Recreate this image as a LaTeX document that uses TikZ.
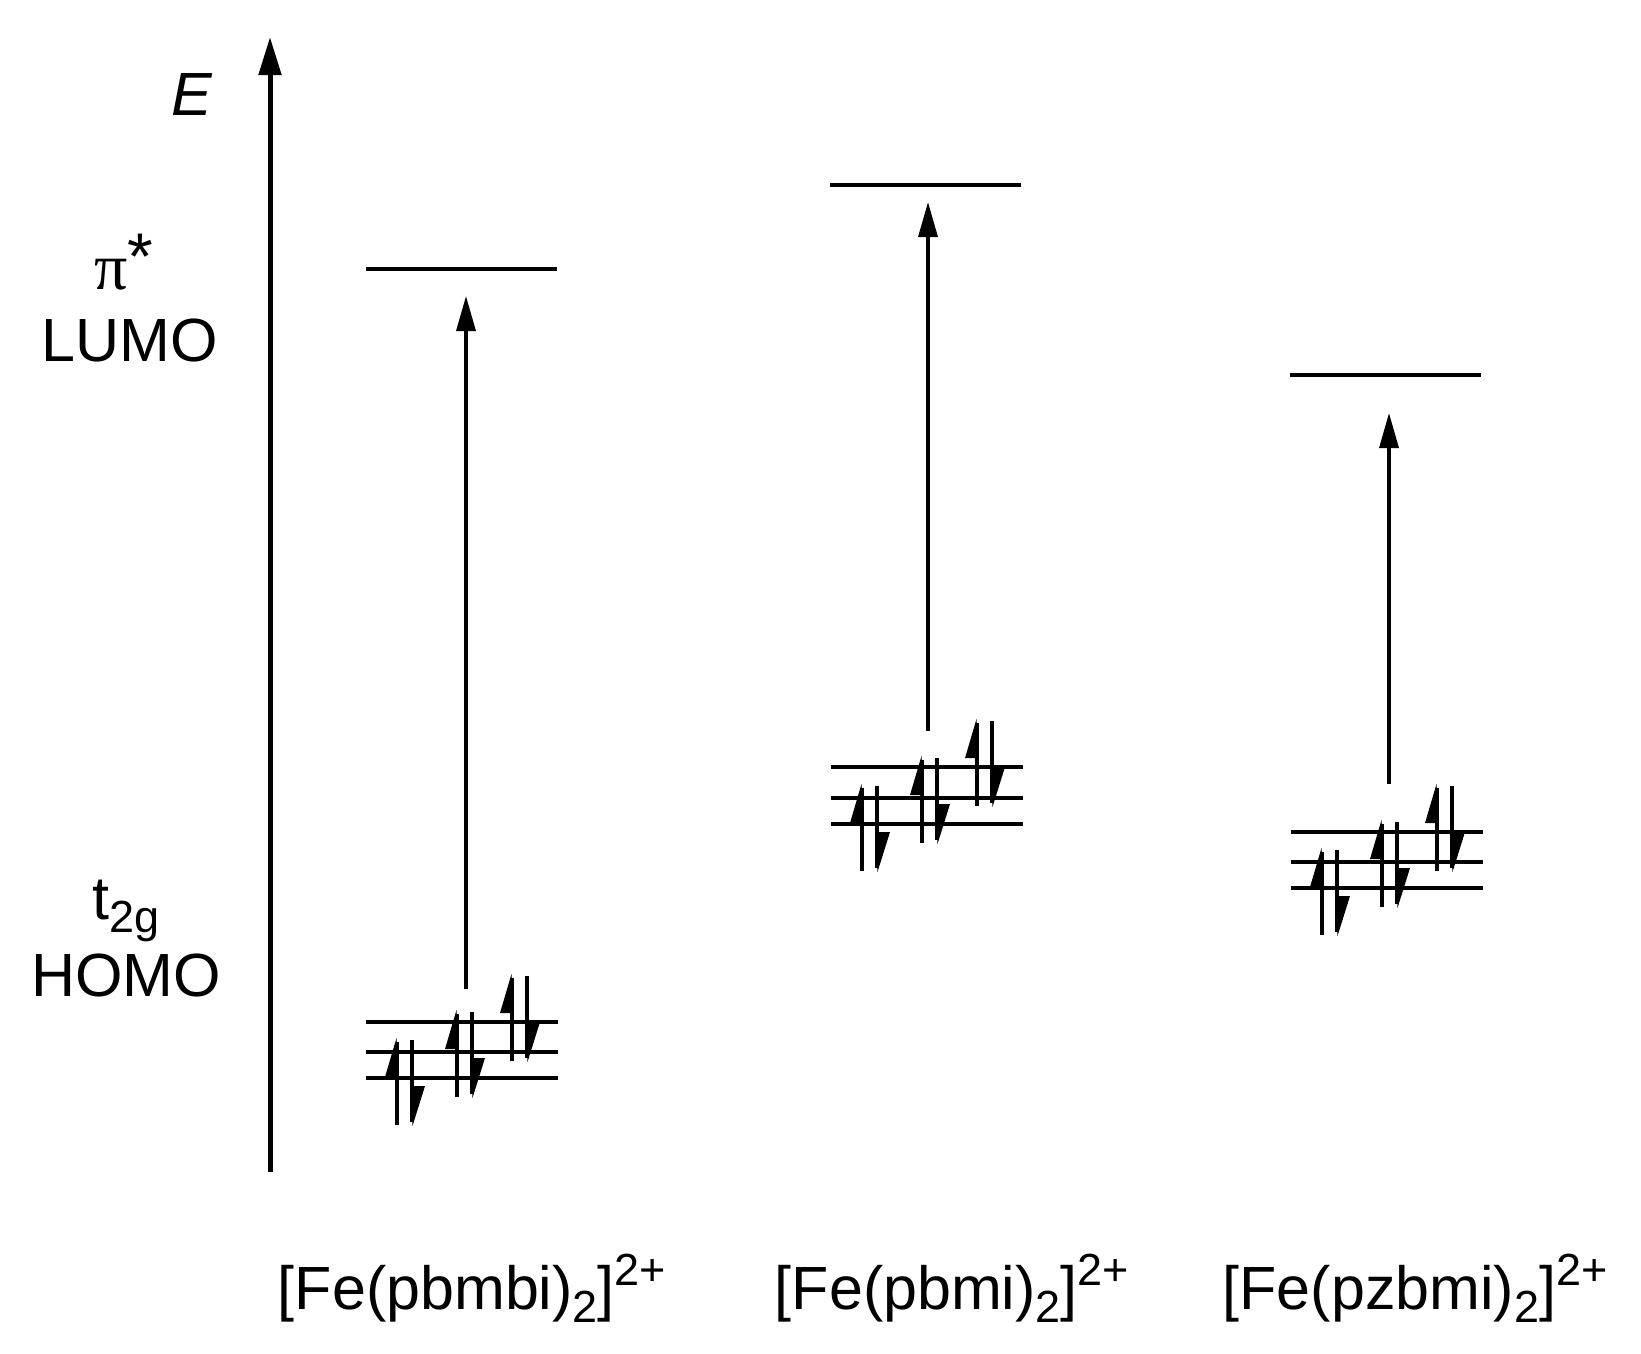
\documentclass[tikz,border=0pt]{standalone}
\usepackage{fontspec}
\setmainfont{Liberation Sans}
\newfontfamily\greekfont{Liberation Serif}
\usetikzlibrary{arrows.meta}
\tikzset{
  level/.style={line width=4.4pt},
  lumolevel/.style={line width=3.8pt},
  eshaft/.style={line width=4.4pt},
  excite/.style={line width=3.5pt,-{Triangle[length=35pt,width=19pt]}},
  axisline/.style={line width=5pt,-{Triangle[length=38pt,width=22pt]}},
  lbl/.style={inner sep=0pt,font=\fontsize{61}{70}\selectfont},
}
\newcommand\subx[1]{\raisebox{-13pt}{\fontsize{45}{45}\selectfont #1}}
\newcommand\supx[1]{\raisebox{24pt}{\fontsize{45}{45}\selectfont #1}}
% electron pair: #1 = x of up arrow, #2 = centre y
\newcommand\epair[2]{%
  \draw[eshaft] (#1,#2+43) -- (#1,#2-40);
  \fill (#1-0.5,#2-44) -- (#1-12,#2-5) -- (#1+2,#2-5) -- cycle;
  \draw[eshaft] (#1+15,#2-42) -- (#1+15,#2+40);
  \fill (#1+15.5,#2+44) -- (#1+28,#2+4) -- (#1+13,#2+4) -- cycle;
}
% HOMO block: #1 = left x, #2 #3 #4 = level y (top, mid, bottom)
\newcommand\homoblock[4]{%
  \draw[level] (#1,#2) -- (#1+192,#2);
  \draw[level] (#1,#3) -- (#1+192,#3);
  \draw[level] (#1,#4) -- (#1+192,#4);
  \epair{#1+31}{#4+4}
  \epair{#1+91}{#3+2}
  \epair{#1+146}{#2-4}
}
\begin{document}
\begin{tikzpicture}[x=1pt,y=-1pt]
\useasboundingbox (0,0) rectangle (1641,1353);
% energy axis
\coordinate (axb) at (270,1172);
\coordinate (axt) at (270,37);
\draw[axisline] (axb) -- (axt);
\node[lbl,anchor=base] (E) at (192,115) {\itshape E};
% left labels
\node[lbl,anchor=base] (pistar) at (124,289) {{\greekfont\fontsize{66}{70}\selectfont π}\raisebox{10pt}{\fontsize{66}{70}\selectfont *}};
\node[lbl,anchor=base] (lumo) at (130,361) {LUMO};
\node[lbl,anchor=base] (t2g) at (126,919) {t\subx{2g}};
\node[lbl,anchor=base] (homo) at (126,996) {HOMO};
% column 1
\draw[lumolevel] (366,269) -- (557,269);
\homoblock{366}{1022}{1052}{1078}
\coordinate (h1) at (466,989);
\coordinate (l1) at (466,296);
\draw[excite] (h1) -- (l1);
% column 2
\draw[lumolevel] (830,185) -- (1021,185);
\homoblock{831}{767}{798}{824}
\coordinate (h2) at (928,731);
\coordinate (l2) at (928,202);
\draw[excite] (h2) -- (l2);
% column 3
\draw[lumolevel] (1290,375) -- (1481,375);
\homoblock{1291}{832}{862}{888}
\coordinate (h3) at (1389,784);
\coordinate (l3) at (1389,413);
\draw[excite] (h3) -- (l3);
% compound labels
\node[lbl,anchor=base] (c1) at (472,1309) {[Fe(pbmbi)\subx{2}]\supx{2+}};
\node[lbl,anchor=base] (c2) at (952,1309) {[Fe(pbmi)\subx{2}]\supx{2+}};
\node[lbl,anchor=base] (c3) at (1415,1309) {[Fe(pzbmi)\subx{2}]\supx{2+}};
\end{tikzpicture}
\end{document}
